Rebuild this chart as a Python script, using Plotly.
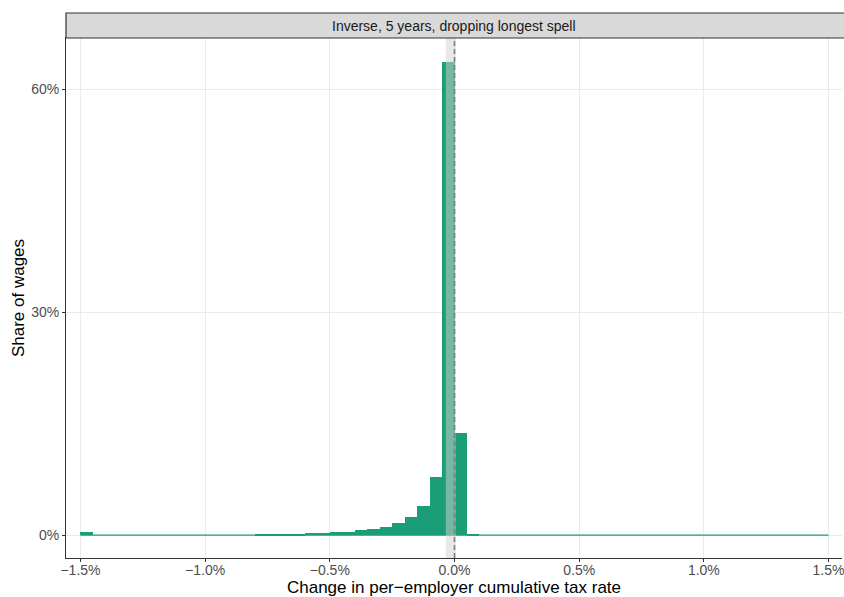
import plotly.graph_objects as go

# Histogram of wage shares by change in per-employer cumulative tax rate (%), bins of 0.05 pp
bin_width = 0.05
bin_left = [round(-1.5 + i * bin_width, 2) for i in range(60)]
share = [
    0.45, 0, 0, 0, 0, 0, 0, 0, 0, 0,          # -1.50 .. -1.05
    0, 0, 0, 0, 0.15, 0.15, 0.17, 0.18, 0.31, 0.28,  # -1.00 .. -0.55
    0.42, 0.47, 0.70, 0.86, 1.12, 1.62, 2.42, 3.90, 7.80, 63.6,  # -0.50 .. -0.05
    13.7, 0.14, 0, 0, 0, 0, 0, 0, 0, 0,       # 0.00 .. 0.45
    0, 0, 0, 0, 0, 0, 0, 0, 0, 0,             # 0.50 .. 0.95
    0, 0, 0, 0, 0, 0, 0, 0, 0, 0,             # 1.00 .. 1.45
]
band_lo, band_hi = -0.035, 0.005
x_ticks = [-1.5, -1.0, -0.5, 0.0, 0.5, 1.0, 1.5]
x_tick_text = ["\u22121.5%", "\u22121.0%", "\u22120.5%", "0.0%", "0.5%", "1.0%", "1.5%"]
y_ticks = [0, 30, 60]
y_tick_text = ["0%", "30%", "60%"]
strip_label = "Inverse, 5 years, dropping longest spell"

GREEN = "#1B9E77"
FONT = "Liberation Sans, Arial, sans-serif"

centers = [b + bin_width / 2 for b in bin_left]

fig = go.Figure()
# outline of empty bins along the baseline
fig.add_trace(go.Scatter(
    x=[bin_left[0], bin_left[-1] + bin_width], y=[0, 0], mode="lines",
    line=dict(color=GREEN, width=1.2), hoverinfo="skip", showlegend=False,
))
fig.add_trace(go.Bar(
    x=centers, y=share, width=bin_width,
    marker=dict(color=GREEN, line=dict(width=0)),
    showlegend=False,
))

# shaded band and dashed reference line at zero
fig.add_shape(type="rect", xref="x", yref="paper", x0=band_lo, x1=band_hi, y0=0, y1=1,
              fillcolor="rgba(209,209,209,0.5)", line=dict(width=0), layer="above")
fig.add_shape(type="line", xref="x", yref="paper", x0=0, x1=0, y0=0, y1=1,
              line=dict(color="#7F7F7F", width=1.6, dash="5px,3px"), layer="above")

# facet strip
fig.add_shape(type="rect", xref="paper", yref="paper", x0=0, x1=1.01, y0=1, y1=1 + 25 / 520,
              fillcolor="#D9D9D9", line=dict(color="#333333", width=1.2))
fig.add_annotation(text=strip_label, xref="paper", yref="paper", x=0.5, y=1 + 12.5 / 520,
                   showarrow=False, font=dict(family=FONT, size=14, color="#1A1A1A"),
                   xanchor="center", yanchor="middle")

fig.update_layout(
    width=844, height=597,
    margin=dict(l=66, r=0, t=38, b=39),
    paper_bgcolor="white", plot_bgcolor="white",
    bargap=0,
    font=dict(family=FONT),
    xaxis=dict(
        range=[-1.558, 1.554], tickvals=x_ticks, ticktext=x_tick_text,
        showgrid=True, gridcolor="#EBEBEB", gridwidth=1, zeroline=False,
        showline=True, linecolor="#333333", linewidth=1, mirror=True,
        ticks="outside", ticklen=3, tickcolor="#333333",
        tickfont=dict(size=14, color="#4D4D4D"),
        ticklabeloverflow="allow", ticklabelstandoff=-4,
        title=dict(text="Change in per\u2212employer cumulative tax rate",
                   font=dict(size=17, color="black"), standoff=7),
    ),
    yaxis=dict(
        range=[-3.09, 66.87], tickvals=y_ticks, ticktext=y_tick_text,
        showgrid=True, gridcolor="#EBEBEB", gridwidth=1, zeroline=False,
        showline=True, linecolor="#333333", linewidth=1, mirror=False,
        ticks="outside", ticklen=3, tickcolor="#333333",
        tickfont=dict(size=14, color="#4D4D4D"),
        title=dict(text="Share of wages", font=dict(size=17, color="black"), standoff=2),
    ),
)

fig.write_html("out.html")
